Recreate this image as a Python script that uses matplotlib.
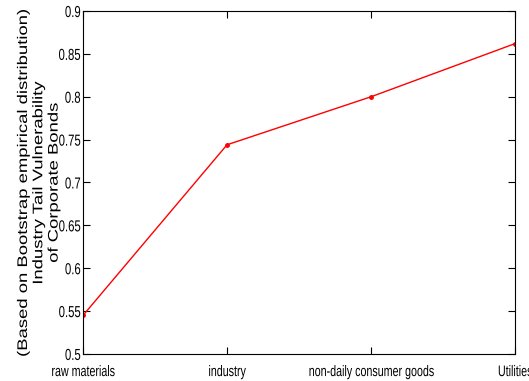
import matplotlib
matplotlib.use("Agg")
import matplotlib.pyplot as plt
from matplotlib.patheffects import AbstractPathEffect
from matplotlib.transforms import Affine2D

categories = ["raw materials", "industry", "non-daily consumer goods", "Utilities"]
values = [0.545, 0.744, 0.800, 0.862]
yticks = [0.5, 0.55, 0.6, 0.65, 0.7, 0.75, 0.8, 0.85, 0.9]
ytick_labels = ["0.5", "0.55", "0.6", "0.65", "0.7", "0.75", "0.8", "0.85", "0.9"]
ylabel = "(Based on Bootstrap empirical distribution)\nIndustry Tail Vulnerability\nof Corporate Bonds"


class Stretch(AbstractPathEffect):
    """Scale glyphs along the text direction around an anchor."""
    def __init__(self, sx, anchor="center"):
        super().__init__()
        self.sx = sx
        self.anchor = anchor

    def draw_path(self, renderer, gc, tpath, affine, rgbFace=None):
        ext = tpath.get_extents()
        if self.anchor == "right":
            cx = ext.x1
        elif self.anchor == "left":
            cx = ext.x0
        else:
            cx = (ext.x0 + ext.x1) / 2
        pre = Affine2D().translate(-cx, 0).scale(self.sx, 1).translate(cx, 0)
        renderer.draw_path(gc, tpath, pre + affine, rgbFace)


fig = plt.figure(figsize=(5.29, 3.81), dpi=100)
ax = fig.add_axes([0.157, 0.071, 0.8165, 0.9])
x = list(range(len(categories)))
ax.plot(x, values, color="red", lw=1.0, marker="o", markersize=2.5)
ax.set_xlim(0, 3)
ax.set_ylim(0.5, 0.9)
ax.set_xticks(x)
ax.set_xticklabels(categories, fontfamily="Liberation Sans", fontsize=11)
ax.set_yticks(yticks)
ax.set_yticklabels(ytick_labels, fontfamily="Liberation Sans", fontsize=11.5)
ax.tick_params(direction="in", top=True, right=True, length=5, width=0.8)
ax.tick_params(axis="y", pad=1.5)
ax.tick_params(axis="x", pad=8)
for lab in ax.get_xticklabels():
    lab.set_path_effects([Stretch(0.70, "center")])
for lab in ax.get_yticklabels():
    lab.set_path_effects([Stretch(0.71, "right")])
for s in ax.spines.values():
    s.set_linewidth(0.8)
yl = ax.set_ylabel(ylabel, fontfamily="Liberation Sans", fontsize=10,
                   linespacing=1.12)
ax.yaxis.set_label_coords(-0.052, 0.5)
yl.set_path_effects([Stretch(1.33, "center")])
fig.savefig("out.png", dpi=100)
